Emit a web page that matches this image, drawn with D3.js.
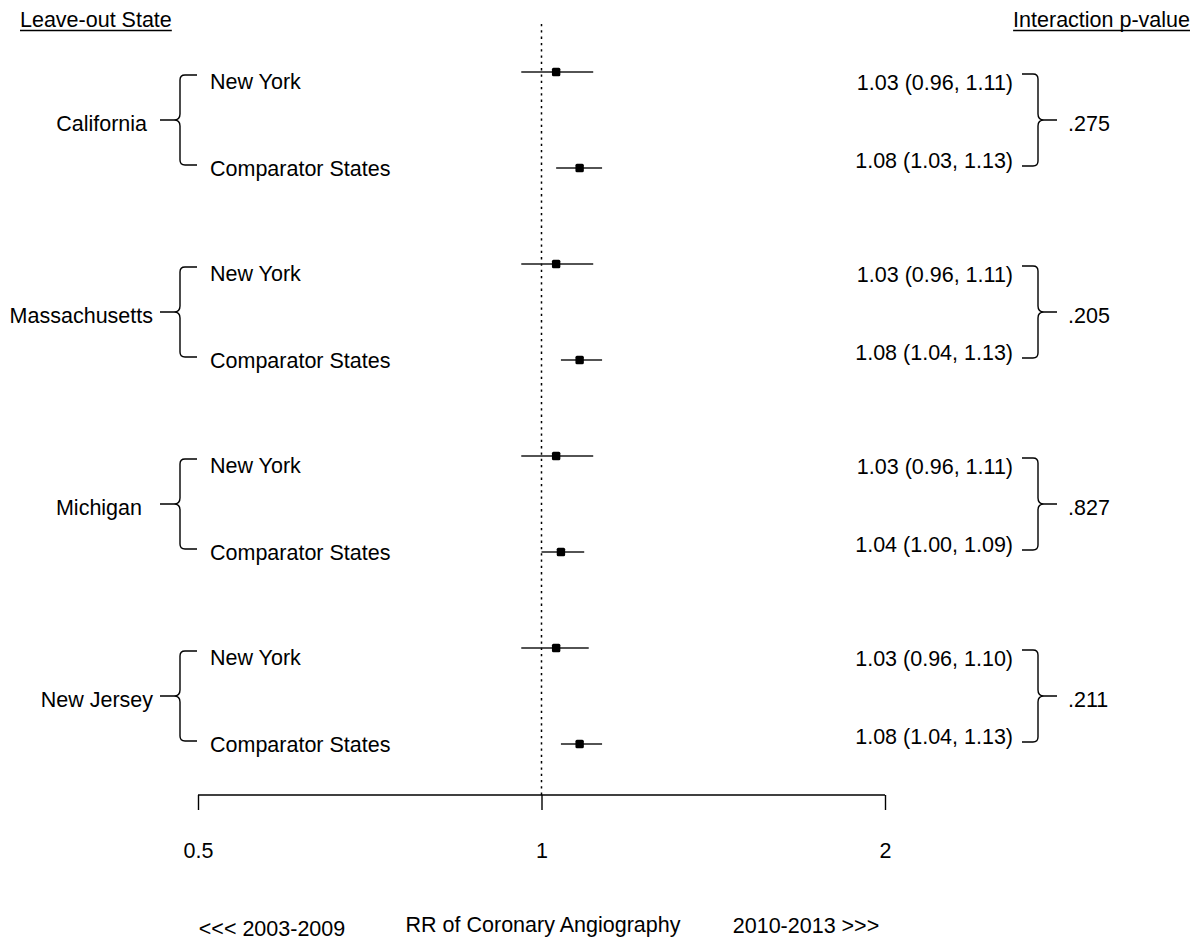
<!DOCTYPE html>
<html>
<head>
<meta charset="utf-8">
<script src="https://cdn.jsdelivr.net/npm/d3@7"></script>
<style>
  html, body { margin: 0; padding: 0; background: #fff; }
  svg { display: block; font-family: "Liberation Sans", Arial, Helvetica, sans-serif; }
</style>
</head>
<body>
<svg id="chart" width="1199" height="944"></svg>
<script>
// Leave-out states and the two comparisons within each
const leaveOutStates = ["California", "Massachusetts", "Michigan", "New Jersey"];
const comparisons = ["New York", "Comparator States"];

// Rate ratios with 95% CI, in row order (state by state, New York first)
const rateRatio = [1.03, 1.08, 1.03, 1.08, 1.03, 1.04, 1.03, 1.08];
const ciLower   = [0.96, 1.03, 0.96, 1.04, 0.96, 1.00, 0.96, 1.04];
const ciUpper   = [1.11, 1.13, 1.11, 1.13, 1.11, 1.09, 1.10, 1.13];

// Interaction p-values per leave-out state
const pValues = [".275", ".205", ".827", ".211"];

// Axis ticks
const tickValues = [0.5, 1, 2];
const tickLabels = ["0.5", "1", "2"];

const svg = d3.select("#chart");
const FONT = 21.5;
const ink = "#000";

const rows = leaveOutStates.flatMap((s, g) => comparisons.map((c, i) => ({
  state: s, group: g, comp: c, idx: g * comparisons.length + i,
  rr: rateRatio[g * 2 + i], lo: ciLower[g * 2 + i], hi: ciUpper[g * 2 + i]
})));

const x = d3.scaleLog().base(2).domain([0.5, 2]).range([198, 885]);
const y = d3.scaleLinear().domain([0, rows.length - 1]).range([72, 744]);
const fmt = d3.format(".2f");

// headers
function underlined(txt, xPos, anchor) {
  const t = svg.append("text").attr("x", xPos).attr("y", 27)
    .attr("text-anchor", anchor).attr("font-size", FONT).attr("fill", ink).text(txt);
  const bb = t.node().getBBox();
  svg.append("line").attr("x1", bb.x).attr("x2", bb.x + bb.width)
    .attr("y1", 30.5).attr("y2", 30.5).attr("stroke", ink).attr("stroke-width", 1.3);
}
underlined("Leave-out State", 20, "start");
underlined("Interaction p-value", 1190, "end");

// reference line at RR = 1
svg.append("line").attr("x1", x(1)).attr("x2", x(1)).attr("y1", 24).attr("y2", 795)
  .attr("stroke", ink).attr("stroke-width", 1.5).attr("stroke-dasharray", "2.3,4");

// confidence intervals and point estimates
svg.selectAll("line.ci").data(rows).join("line").attr("class", "ci")
  .attr("x1", d => x(d.lo)).attr("x2", d => x(d.hi))
  .attr("y1", d => y(d.idx)).attr("y2", d => y(d.idx))
  .attr("stroke", "#1a1a1a").attr("stroke-width", 1.4);
svg.selectAll("rect.pt").data(rows).join("rect").attr("class", "pt")
  .attr("x", d => x(d.rr) - 4.2).attr("y", d => y(d.idx) - 4.2)
  .attr("width", 8.4).attr("height", 8.4).attr("rx", 1.5).attr("fill", "#000");

// comparison labels
svg.selectAll("text.comp").data(rows).join("text").attr("class", "comp")
  .attr("x", 210).attr("y", d => y(d.idx) + (d.comp === "New York" ? 17 : 8))
  .attr("font-size", FONT).attr("fill", ink).text(d => d.comp);

// estimate labels
svg.selectAll("text.est").data(rows).join("text").attr("class", "est")
  .attr("x", 1013).attr("y", d => y(d.idx) + (d.comp === "New York" ? 17.5 : -0.5))
  .attr("text-anchor", "end").attr("font-size", FONT).attr("fill", ink)
  .text(d => `${fmt(d.rr)} (${fmt(d.lo)}, ${fmt(d.hi)})`);

// braces
const labelRight = [147, 153, 142, 153];
function leftBrace(top, bot, mid) {
  const vx = 180, hx = 197, tx = 160, r = 5;
  return `M${hx},${top} L${vx + r},${top} Q${vx},${top} ${vx},${top + r} L${vx},${mid - 6} Q${vx},${mid} ${vx - 6},${mid} L${tx},${mid}` +
         ` M${hx},${bot} L${vx + r},${bot} Q${vx},${bot} ${vx},${bot - r} L${vx},${mid + 6} Q${vx},${mid} ${vx - 6},${mid}`;
}
function rightBrace(top, bot, mid) {
  const vx = 1038, hx = 1022, tx = 1057, r = 5;
  return `M${hx},${top} L${vx - r},${top} Q${vx},${top} ${vx},${top + r} L${vx},${mid - 6} Q${vx},${mid} ${vx + 6},${mid} L${tx},${mid}` +
         ` M${hx},${bot} L${vx - r},${bot} Q${vx},${bot} ${vx},${bot - r} L${vx},${mid + 6} Q${vx},${mid} ${vx + 6},${mid}`;
}
leaveOutStates.forEach((s, g) => {
  const yTop = y(g * 2), yBot = y(g * 2 + 1), mid = (yTop + yBot) / 2;
  svg.append("path").attr("d", leftBrace(yTop + 3, yBot - 3, mid))
    .attr("fill", "none").attr("stroke", ink).attr("stroke-width", 1.4);
  svg.append("path").attr("d", rightBrace(yTop + 2, yBot - 2, mid))
    .attr("fill", "none").attr("stroke", ink).attr("stroke-width", 1.4);
  svg.append("text").attr("x", labelRight[g]).attr("y", mid + 10.5)
    .attr("text-anchor", "end").attr("font-size", FONT).attr("fill", ink).text(s);
  svg.append("text").attr("x", 1068).attr("y", mid + 11)
    .attr("font-size", FONT).attr("fill", ink).text(pValues[g]);
});

// x axis
const axis = svg.append("g").attr("transform", "translate(0,795)")
  .call(d3.axisBottom(x).tickValues(tickValues).tickFormat((d, i) => tickLabels[i])
    .tickSizeOuter(0).tickSizeInner(15).tickPadding(0));
axis.select(".domain").attr("d", `M${x(0.5)},0H${x(2)}`).attr("stroke", ink).attr("stroke-width", 1.4);
axis.selectAll(".tick line").attr("stroke", ink).attr("stroke-width", 1.4);
axis.selectAll(".tick text").attr("y", 63).attr("dy", 0)
  .attr("font-size", FONT).attr("fill", ink).attr("font-family", "Liberation Sans, Arial, sans-serif");

// axis titles
svg.append("text").attr("x", 272).attr("y", 936).attr("text-anchor", "middle")
  .attr("font-size", FONT).attr("fill", ink).text("<<< 2003-2009");
svg.append("text").attr("x", 543).attr("y", 932).attr("text-anchor", "middle")
  .attr("font-size", FONT).attr("fill", ink).text("RR of Coronary Angiography");
svg.append("text").attr("x", 806).attr("y", 933).attr("text-anchor", "middle")
  .attr("font-size", FONT).attr("fill", ink).text("2010-2013 >>>");
</script>
</body>
</html>
